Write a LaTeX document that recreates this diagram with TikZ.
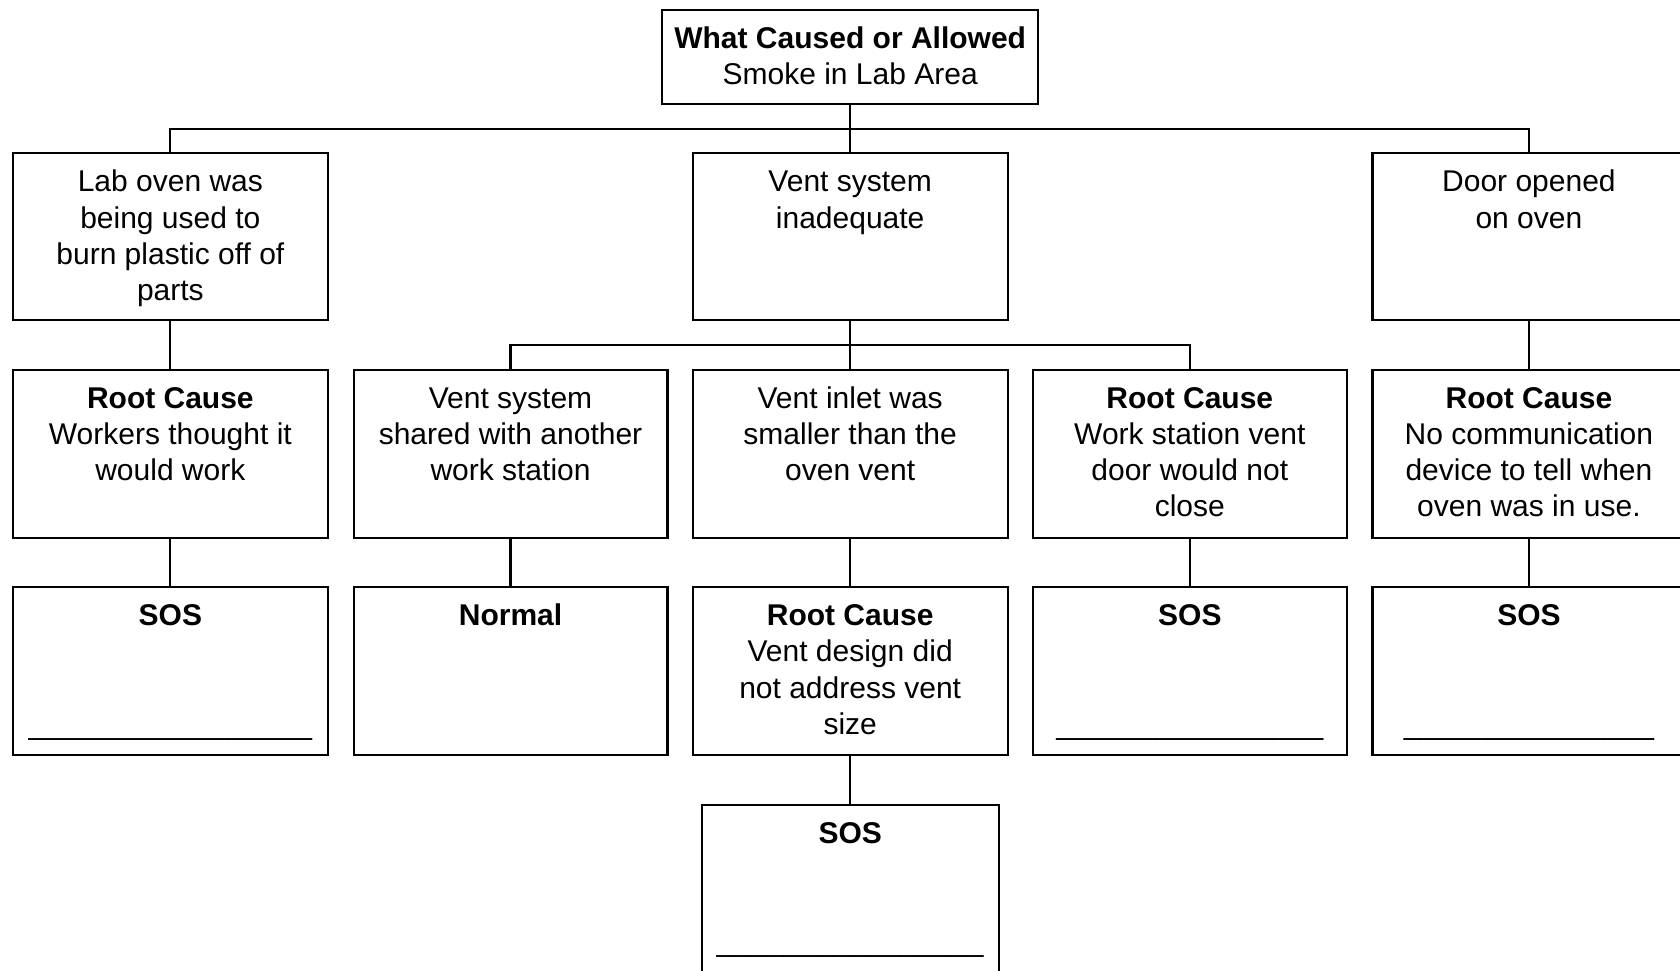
\documentclass[tikz,border=0pt]{standalone}
\usepackage{fontspec}
\setmainfont{Liberation Sans}
\newcommand\bxt[3]{\parbox[t][#2][t]{#1}{\centering\rule{0pt}{18pt}#3}}
\begin{document}
\begin{tikzpicture}[x=0.5pt,y=-0.5pt,line width=1pt,
  box/.style={draw=black, line width=1pt, inner sep=0pt, font=\fontsize{14pt}{16.9pt}\selectfont},
  conn/.style={draw=black, line width=1pt}]
\fill[white] (0,0) rectangle (1568,906);
\useasboundingbox (0,0) rectangle (1568,906);
% top
\node[box] (top) at (793.5,53) {\bxt{175.5pt}{44pt}{\textbf{What Caused or Allowed}\\Smoke in Lab Area}};
% level 1
\node[box] (l1a) at (159,221) {\bxt{147pt}{78pt}{Lab oven was\\being used to\\burn plastic off of\\parts}};
\node[box] (l1b) at (793.5,221) {\bxt{147pt}{78pt}{Vent system\\inadequate}};
\node[box] (l1c) at (1427,221) {\bxt{146pt}{78pt}{Door opened\\on oven}};
% level 2
\node[box] (l2a) at (159,423.5) {\bxt{147pt}{78.5pt}{\textbf{Root Cause}\\Workers thought it\\would work}};
\node[box] (l2b) at (476.5,423.5) {\bxt{146.5pt}{78.5pt}{Vent system\\shared with another\\work station}};
\node[box] (l2c) at (793.5,423.5) {\bxt{147pt}{78.5pt}{Vent inlet was\\smaller than the\\oven vent}};
\node[box] (l2d) at (1110.5,423.5) {\bxt{146.5pt}{78.5pt}{\textbf{Root Cause}\\Work station vent\\door would not\\close}};
\node[box] (l2e) at (1427,423.5) {\bxt{146pt}{78.5pt}{\textbf{Root Cause}\\No communication\\device to tell when\\oven was in use.}};
% level 3
\node[box] (l3a) at (159,626.5) {\bxt{147pt}{78.5pt}{\textbf{SOS}\\\mbox{}\\\mbox{}\\\_\_\_\_\_\_\_\_\_\_\_\_\_\_\_\_\_}};
\node[box] (l3b) at (476.5,626.5) {\bxt{146.5pt}{78.5pt}{\textbf{Normal}}};
\node[box] (l3c) at (793.5,626.5) {\bxt{147pt}{78.5pt}{\textbf{Root Cause}\\Vent design did\\not address vent\\size}};
\node[box] (l3d) at (1110.5,626.5) {\bxt{146.5pt}{78.5pt}{\textbf{SOS}\\\mbox{}\\\mbox{}\\\_\_\_\_\_\_\_\_\_\_\_\_\_\_\_\_}};
\node[box] (l3e) at (1427,626.5) {\bxt{146pt}{78.5pt}{\textbf{SOS}\\\mbox{}\\\mbox{}\\\_\_\_\_\_\_\_\_\_\_\_\_\_\_\_}};
% level 4
\node[box] (l4) at (793.5,829.5) {\bxt{138.5pt}{78.5pt}{\textbf{SOS}\\\mbox{}\\\mbox{}\\\_\_\_\_\_\_\_\_\_\_\_\_\_\_\_\_}};
% connectors
\coordinate (bus) at (793.5,120);
\coordinate (sbus) at (793.5,322);
\draw[conn] (top.south) -- (l1b.north);
\draw[conn] (l1a.north) |- (bus) -| (l1c.north);
\draw[conn] (l1a.south) -- (l2a.north);
\draw[conn] (l1b.south) -- (l2c.north);
\draw[conn] (l2b.north) |- (sbus) -| (l2d.north);
\draw[conn] (l1c.south) -- (l2e.north);
\draw[conn] (l2a.south) -- (l3a.north);
\draw[conn] (l2b.south) -- (l3b.north);
\draw[conn] (l2c.south) -- (l3c.north);
\draw[conn] (l2d.south) -- (l3d.north);
\draw[conn] (l2e.south) -- (l3e.north);
\draw[conn] (l3c.south) -- (l4.north);
\end{tikzpicture}
\end{document}
